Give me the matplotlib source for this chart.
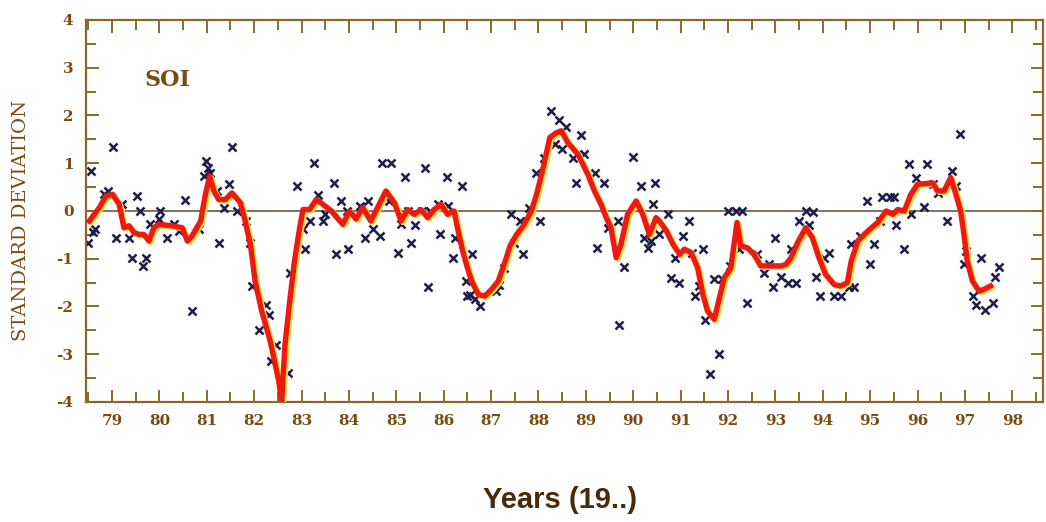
import matplotlib
matplotlib.use("Agg")
import matplotlib.pyplot as plt
import matplotlib.transforms as mtransforms
from matplotlib.ticker import MultipleLocator, FixedLocator

# Monthly Southern Oscillation Index anomalies (standard deviations)
obs_year = [
    78.50, 78.55, 78.60, 78.65, 78.83, 78.91, 79.02, 79.08, 79.21, 79.36,
    79.42, 79.52, 79.60, 79.65, 79.71, 79.81, 80.00, 80.02, 80.16, 80.31,
    80.41, 80.55, 80.69, 80.83, 80.95, 80.98, 81.02, 81.06, 81.21, 81.26,
    81.36, 81.47, 81.53, 81.63, 81.82, 81.92, 81.95, 82.11, 82.24, 82.31,
    82.36, 82.45, 82.71, 82.75, 82.90, 83.03, 83.07, 83.17, 83.26, 83.34,
    83.45, 83.50, 83.68, 83.72, 83.83, 83.95, 83.98, 84.23, 84.34, 84.40,
    84.50, 84.65, 84.69, 84.85, 84.88, 85.03, 85.10, 85.18, 85.24, 85.31,
    85.39, 85.55, 85.60, 85.66, 85.72, 85.88, 85.92, 86.06, 86.10, 86.20,
    86.24, 86.38, 86.48, 86.50, 86.55, 86.59, 86.66, 86.77, 87.10, 87.17,
    87.28, 87.42, 87.49, 87.60, 87.68, 87.80, 87.94, 88.03, 88.11, 88.27,
    88.35, 88.43, 88.50, 88.59, 88.72, 88.80, 88.90, 88.97, 89.19, 89.24,
    89.38, 89.47, 89.68, 89.70, 89.81, 90.00, 90.17, 90.23, 90.31, 90.38,
    90.42, 90.47, 90.55, 90.73, 90.80, 90.89, 90.97, 91.05, 91.17, 91.25,
    91.30, 91.39, 91.47, 91.52, 91.61, 91.70, 91.80, 91.87, 92.00, 92.05,
    92.16, 92.24, 92.30, 92.40, 92.61, 92.76, 92.87, 92.94, 93.00, 93.12,
    93.26, 93.33, 93.43, 93.50, 93.64, 93.71, 93.79, 93.85, 93.95, 94.03,
    94.13, 94.24, 94.38, 94.55, 94.60, 94.67, 94.78, 94.94, 94.99, 95.09,
    95.20, 95.26, 95.41, 95.50, 95.55, 95.71, 95.81, 95.86, 95.97, 96.13,
    96.20, 96.32, 96.43, 96.62, 96.72, 96.81, 96.90, 96.99, 97.02, 97.17,
    97.24, 97.33, 97.42, 97.59, 97.64, 97.73,
]
obs_soi = [
    -0.66, 0.84, -0.45, -0.38, 0.35, 0.42, 1.33, -0.56, 0.14, -0.56,
    -0.98, 0.31, 0.00, -1.15, -0.98, -0.28, -0.17, 0.00, -0.56, -0.28,
    -0.42, 0.22, -2.10, -0.38, 0.73, 1.05, 0.90, 0.80, 0.42, -0.66,
    0.07, 0.56, 1.33, 0.00, -0.21, -0.66, -1.57, -2.50, -1.96, -2.17,
    -3.15, -2.80, -3.39, -1.29, 0.52, -0.38, -0.80, -0.21, 1.01, 0.34,
    -0.21, -0.07, 0.59, -0.90, 0.21, 0.00, -0.80, 0.10, -0.57, 0.21,
    -0.38, -0.52, 1.01, 0.21, 1.01, -0.89, -0.28, 0.71, 0.00, -0.68,
    -0.30, 0.00, 0.91, -1.59, 0.00, 0.14, -0.49, 0.71, 0.10, -0.98,
    -0.56, 0.52, -1.47, -1.78, -1.75, -0.90, -1.85, -2.00, -1.68, -1.54,
    -1.19, -0.07, -0.66, -0.21, -0.90, 0.07, 0.80, -0.21, 1.12, 2.10,
    1.40, 1.90, 1.29, 1.75, 1.12, 0.59, 1.59, 1.20, 0.80, -0.78,
    0.59, -0.35, -0.20, -2.38, -1.17, 1.13, 0.52, -0.57, -0.78, -0.63,
    0.14, 0.59, -0.49, -0.07, -1.40, -0.98, -1.50, -0.52, -0.20, -0.87,
    -1.78, -1.57, -0.80, -2.29, -3.41, -1.43, -2.99, -1.43, 0.00, -1.15,
    0.00, -0.80, 0.00, -1.92, -0.90, -1.29, -1.12, -1.59, -0.57, -1.38,
    -1.50, -0.80, -1.50, -0.20, 0.00, -0.29, -0.03, -1.38, -1.78, -0.98,
    -0.87, -1.78, -1.78, -1.59, -0.69, -1.59, -0.52, 0.21, -1.12, -0.70,
    -0.21, 0.29, 0.29, 0.29, -0.29, -0.80, 0.99, -0.07, 0.70, 0.08,
    0.99, 0.57, 0.38, -0.20, 0.83, 0.52, 1.61, -1.12, -0.84, -1.78,
    -1.96, -0.98, -2.08, -1.92, -1.38, -1.17,
]

# Running mean of the index
smooth_year = [
    78.52, 78.73, 78.87, 79.01, 79.15, 79.25, 79.36, 79.46, 79.57, 79.67,
    79.78, 79.88, 79.99, 80.27, 80.48, 80.59, 80.69, 80.87, 80.97, 81.06,
    81.15, 81.25, 81.39, 81.53, 81.71, 81.81, 81.92, 82.02, 82.16, 82.34,
    82.52, 82.58, 82.65, 82.75, 82.85, 82.96, 83.03, 83.17, 83.31, 83.45,
    83.63, 83.87, 84.01, 84.15, 84.29, 84.46, 84.78, 84.96, 85.10, 85.24,
    85.38, 85.52, 85.66, 85.80, 85.94, 86.08, 86.22, 86.29, 86.40, 86.50,
    86.59, 86.73, 86.87, 87.01, 87.15, 87.29, 87.40, 87.54, 87.68, 87.85,
    87.96, 88.10, 88.24, 88.38, 88.48, 88.62, 88.83, 89.04, 89.18, 89.32,
    89.43, 89.53, 89.64, 89.74, 89.88, 90.06, 90.20, 90.34, 90.48, 90.55,
    90.70, 90.84, 90.98, 91.08, 91.22, 91.36, 91.47, 91.57, 91.71, 91.82,
    91.92, 92.06, 92.19, 92.27, 92.41, 92.55, 92.69, 92.83, 92.98, 93.12,
    93.22, 93.33, 93.47, 93.64, 93.78, 93.92, 94.06, 94.24, 94.38, 94.52,
    94.60, 94.74, 94.95, 95.16, 95.34, 95.48, 95.58, 95.72, 95.86, 96.00,
    96.14, 96.32, 96.42, 96.56, 96.70, 96.81, 96.91, 96.98, 97.05, 97.16,
    97.30, 97.40, 97.54,
]
smooth_soi = [
    -0.21, 0.07, 0.31, 0.35, 0.14, -0.35, -0.31, -0.45, -0.49, -0.49,
    -0.63, -0.35, -0.28, -0.31, -0.35, -0.63, -0.52, -0.21, 0.35, 0.73,
    0.42, 0.24, 0.24, 0.38, 0.17, -0.21, -0.70, -1.47, -2.10, -2.73,
    -3.57, -4.00, -2.80, -1.89, -1.05, -0.35, 0.03, 0.03, 0.24, 0.14,
    0.00, -0.28, 0.00, -0.17, 0.07, -0.21, 0.42, 0.17, -0.21, 0.03,
    -0.07, 0.03, -0.14, 0.03, 0.14, -0.07, 0.00, -0.35, -0.84, -1.19,
    -1.47, -1.75, -1.78, -1.64, -1.47, -1.08, -0.73, -0.49, -0.31, 0.00,
    0.35, 0.91, 1.54, 1.64, 1.68, 1.43, 1.19, 0.77, 0.42, 0.14,
    -0.14, -0.35, -0.98, -0.70, -0.07, 0.21, -0.07, -0.49, -0.14, -0.21,
    -0.42, -0.70, -0.91, -0.80, -0.87, -1.19, -1.75, -2.10, -2.27, -1.82,
    -1.40, -1.19, -0.24, -0.73, -0.77, -0.91, -1.15, -1.15, -1.15, -1.15,
    -1.12, -0.98, -0.66, -0.35, -0.56, -0.98, -1.33, -1.54, -1.57, -1.50,
    -1.05, -0.63, -0.42, -0.24, 0.00, -0.07, 0.03, 0.00, 0.35, 0.56,
    0.57, 0.59, 0.42, 0.42, 0.70, 0.35, 0.00, -0.49, -1.05, -1.47,
    -1.68, -1.64, -1.57,
]

year_ticks = list(range(79, 99))
year_labels = [str(y) for y in year_ticks]
sd_ticks = [-4, -3, -2, -1, 0, 1, 2, 3, 4]

brown = "#7a4a12"
axis_col = "#8a6a2a"

plt.rcParams["axes.unicode_minus"] = False

fig = plt.figure(figsize=(10.46, 5.22), dpi=100)
ax = fig.add_axes([0.0822, 0.2299, 0.9150, 0.7318])

ax.axhline(0, color="#6e5a3c", lw=1.2, zorder=1)

ax.plot(obs_year, obs_soi, linestyle="none", marker="x", markersize=6,
        markeredgewidth=1.8, color="#1c1c48", zorder=2)

shadow = mtransforms.offset_copy(ax.transData, fig=fig, x=1.3, y=-1.0, units="points")
ax.plot(smooth_year, smooth_soi, color="#f4dc3a", lw=3.9, transform=shadow,
        solid_joinstyle="round", zorder=3)
ax.plot(smooth_year, smooth_soi, color="#ee1a12", lw=3.9,
        solid_joinstyle="round", zorder=4)

ax.set_xlim(78.45, 98.65)
ax.set_ylim(-4, 4)

ax.xaxis.set_major_locator(FixedLocator(year_ticks))
ax.set_xticklabels(year_labels)
ax.xaxis.set_minor_locator(MultipleLocator(0.5))
ax.set_yticks(sd_ticks)
ax.set_yticklabels([str(v) for v in sd_ticks])
ax.yaxis.set_minor_locator(MultipleLocator(0.5))

ax.tick_params(axis="both", which="both", direction="in", colors=axis_col,
               top=True, right=True, width=1.4)
ax.tick_params(axis="both", which="major", length=9)
ax.tick_params(axis="both", which="minor", length=7)
ax.tick_params(axis="x", which="major", pad=9)
ax.tick_params(axis="y", which="major", pad=9)

for lab in ax.get_xticklabels() + ax.get_yticklabels():
    lab.set_fontfamily("DejaVu Serif")
    lab.set_fontweight("bold")
    lab.set_fontsize(11)
    lab.set_color(brown)

for sp in ax.spines.values():
    sp.set_color(axis_col)
    sp.set_linewidth(1.6)

ax.text(0.085, 0.843, "SOI", transform=ax.transAxes, ha="center", va="center",
        fontsize=16, fontfamily="DejaVu Serif", fontweight="bold", color=brown)

fig.text(0.020, 0.578, "STANDARD DEVIATION", rotation=90, ha="center", va="center",
         fontsize=14, fontfamily="DejaVu Serif", color=brown)

fig.text(0.535, 0.042, "Years (19..)", ha="center", va="center",
         fontsize=21, fontfamily="Liberation Sans", fontweight="bold",
         color="#4a2a08")

fig.savefig("out.png", dpi=100, facecolor="white")
